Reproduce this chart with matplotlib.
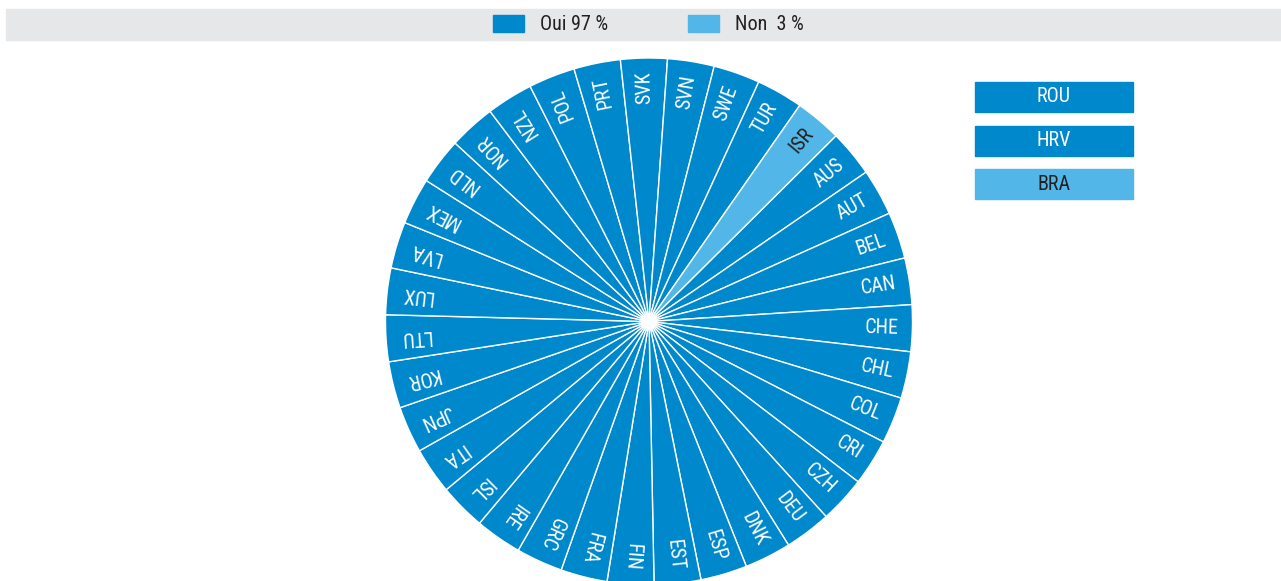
import matplotlib.pyplot as plt
from matplotlib.patches import Rectangle
import numpy as np

# pays dans le camembert (Oui, puis Non)
oui = ["AUS", "AUT", "BEL", "CAN", "CHE", "CHL", "COL", "CRI", "CZH", "DEU",
       "DNK", "ESP", "EST", "FIN", "FRA", "GRC", "IRE", "ISL", "ITA", "JPN",
       "KOR", "LTU", "LUX", "LVA", "MEX", "NLD", "NOR", "NZL", "POL", "PRT",
       "SVK", "SVN", "SWE", "TUR"]
non = ["ISR"]

# pays hors camembert (cases à droite)
extra = ["ROU", "HRV", "BRA"]
extra_answer = ["Oui", "Oui", "Non"]

legend_answers = ["Oui", "Non"]
legend_labels = ["Oui 97 %", "Non  3 %"]

countries = oui + non
answers = ["Oui"] * len(oui) + ["Non"] * len(non)
sizes = [1] * len(countries)

fill = {"Oui": "#0088CC", "Non": "#52B7E8"}
ink = {"Oui": "white", "Non": "#231F20"}
font = ["Roboto Condensed", "DejaVu Sans"]
fs = 14.5

W, H = 1281, 581
fig = plt.figure(figsize=(W / 100, H / 100), dpi=100)
ax = fig.add_axes([0, 0, 1, 1])

cx, cy, r = 649, H - 321.5, 263.5
step = 360 / len(countries)
start = 91.1 + (countries.index("SVK") + 0.5) * step

wedges, _ = ax.pie(sizes, colors=[fill[a] for a in answers], startangle=start,
                   counterclock=False, radius=r, center=(cx, cy),
                   wedgeprops=dict(edgecolor="white", linewidth=1.0))

for w, name, a in zip(wedges, countries, answers):
    mid = (w.theta1 + w.theta2) / 2
    t = np.deg2rad(mid)
    ax.text(cx + 0.948 * r * np.cos(t), cy + 0.948 * r * np.sin(t), name,
            rotation=mid % 360, rotation_mode="anchor", ha="right", va="center",
            color=ink[a], fontsize=fs, family=font)

# bandeau de légende
ax.add_patch(Rectangle((6, H - 40), W - 6, 31, color="#E6E7E8", zorder=0))
leg_x = [493, 688]
for x, a, lab in zip(leg_x, legend_answers, legend_labels):
    ax.add_patch(Rectangle((x, H - 32), 31, 17, color=fill[a]))
    ax.text(x + 47, H - 24.5, lab, ha="left", va="center", color="#231F20",
            fontsize=fs, family=font)

# cases à droite
for i, (name, a) in enumerate(zip(extra, extra_answer)):
    top = 82 + i * 43.5
    ax.add_patch(Rectangle((975, H - top - 30), 158, 30, color=fill[a]))
    ax.text(1054, H - top - 15, name, ha="center", va="center",
            color=ink[a], fontsize=fs, family=font)

ax.set_xlim(0, W)
ax.set_ylim(0, H)
ax.set_aspect("auto")
ax.axis("off")

fig.savefig("out.png", dpi=100)
